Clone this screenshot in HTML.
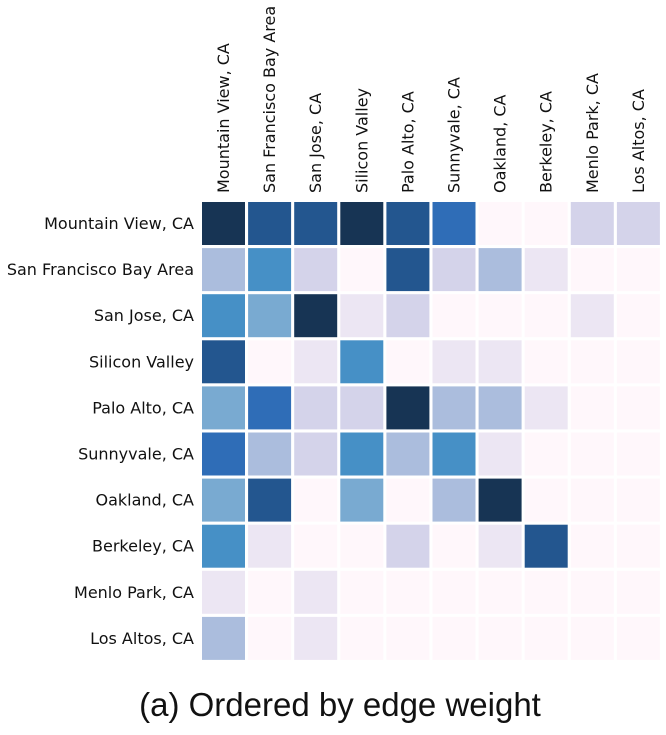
<!DOCTYPE html>
<html><head><meta charset="utf-8"><style>
body{margin:0;background:#fff;width:666px;height:730px;overflow:hidden}
svg text{font-family:"DejaVu Sans","Liberation Sans",sans-serif;fill:#111}
</style></head><body>
<svg id="chart" width="666" height="730"></svg>
<script>
const categories=["Mountain View, CA","San Francisco Bay Area","San Jose, CA","Silicon Valley","Palo Alto, CA","Sunnyvale, CA","Oakland, CA","Berkeley, CA","Menlo Park, CA","Los Altos, CA"];
const values=[
[8,7,7,8,7,6,0,0,2,2],
[3,5,2,0,7,2,3,1,0,0],
[5,4,8,1,2,0,0,0,1,0],
[7,0,1,5,0,1,1,0,0,0],
[4,6,2,2,8,3,3,1,0,0],
[6,3,2,5,3,5,1,0,0,0],
[4,7,0,4,0,3,8,0,0,0],
[5,1,0,0,2,0,1,7,0,0],
[1,0,1,0,0,0,0,0,0,0],
[3,0,1,0,0,0,0,0,0,0]];
const palette=["#fff7fb","#ece6f3","#d4d3ea","#abbddd","#79aad1","#4690c6","#2f6db7","#23568f","#173454"];
const ns="http://www.w3.org/2000/svg",svg=document.getElementById("chart");
const x0=202,y0=202,step=46.1,cell=43;
const xPos=i=>x0+i*step, yPos=i=>y0+i*step;
function mk(t,a){const e=document.createElementNS(ns,t);for(const k in a)e.setAttribute(k,a[k]);svg.appendChild(e);return e;}
values.forEach((row,r)=>row.forEach((v,c)=>{
 const e=mk("rect",{x:xPos(c),y:yPos(r),width:cell,height:cell,fill:palette[v]});
 
 
}));
categories.forEach((lab,i)=>{
 const t=mk("text",{x:194,y:yPos(i)+cell/2+5.5,"text-anchor":"end","font-size":"16"});
 t.textContent=lab;
 
 
 const cx=xPos(i)+cell/2+5.5;
 const u=mk("text",{x:cx,y:193,"text-anchor":"start","font-size":"16",transform:`rotate(-90 ${cx} 193)`});
 u.textContent=lab;
 
 
});
const ti=mk("text",{x:340,y:716,"text-anchor":"middle","font-size":"33",style:"font-family:'Liberation Sans',sans-serif"});
ti.textContent="(a)  Ordered by edge weight";


</script>
</body></html>
